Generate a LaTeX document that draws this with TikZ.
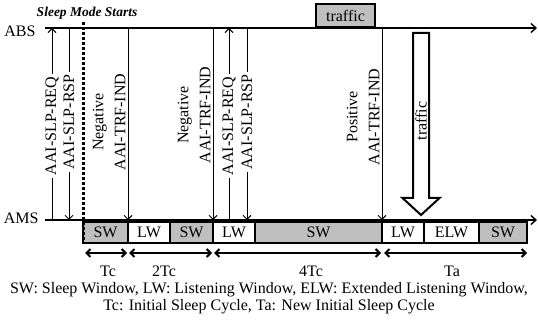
\documentclass[tikz,border=0pt]{standalone}
\usepackage{fontspec}
\setmainfont{Liberation Serif}
\usetikzlibrary{arrows.meta,positioning}

\begin{document}
\begin{tikzpicture}[x=1pt, y=-1pt, line width=1pt,
  every node/.style={font=\fontsize{16}{16}\selectfont, inner sep=2pt},
  msg/.style={-{Straight Barb[length=4pt,width=8pt]}, line width=0.9pt},
  axis/.style={-{Straight Barb[length=5pt,width=9pt]}, line width=1.4pt},
  span/.style={{Straight Barb[length=4pt,width=8pt]}-{Straight Barb[length=4pt,width=8pt]}, line width=2pt},
  win/.style={draw, line width=2pt, minimum height=21pt, outer sep=0pt, inner sep=0pt},
  sw/.style={win, fill=black!25},
  lw/.style={win, fill=white},
  ind/.style={rotate=90, anchor=south, align=center, inner sep=1pt,
    font=\fontsize{16}{22}\selectfont},
]
\useasboundingbox (0,0) rectangle (538,320);

% =========================
% time axes
% =========================
\coordinate (absStart) at (45,28);
\coordinate (absEnd) at (537,28);
\coordinate (amsStart) at (45,220);
\coordinate (amsEnd) at (537,220);
\node[anchor=east] (abs) at (38,31) {ABS};
\node[anchor=east] (ams) at (41,218) {AMS};
\draw[axis] (absStart) -- (absEnd);
\draw[axis] (amsStart) -- (amsEnd);

% =========================
% windows
% =========================
\node[sw, minimum width=45pt, anchor=west] (swA) at (83,232.5) {SW};
\node[lw, minimum width=42pt, right=0pt of swA] (lwA) {LW};
\node[sw, minimum width=43pt, right=0pt of lwA] (swB) {SW};
\node[lw, minimum width=42pt, right=0pt of swB] (lwB) {LW};
\node[sw, minimum width=127pt, right=0pt of lwB] (swC) {SW};
\node[lw, minimum width=42pt, right=0pt of swC] (lwC) {LW};
\node[lw, minimum width=55pt, right=0pt of lwC] (elw) {ELW};
\node[sw, minimum width=48pt, right=0pt of elw] (swD) {SW};

% sleep mode start
\node[font=\fontsize{13.5}{14}\selectfont\bfseries\itshape] (sleep) at (87,13) {Sleep Mode Starts};
\draw[line width=3pt, dash pattern=on 3pt off 2pt] (sleep.south -| swA.west) -- (swA.south west);

% =========================
% sleep request / response
% =========================
\node[rotate=90] (reqA) at (52,126) {AAI-SLP-REQ};
\draw[line width=0.9pt] (reqA |- amsStart) -- (reqA.west);
\draw[msg] (reqA.east) -- (reqA |- absStart);

\node[rotate=90] (rspA) at (69,122) {AAI-SLP-RSP};
\draw[line width=0.9pt] (rspA |- absStart) -- (rspA.east);
\draw[msg] (rspA.west) -- (rspA |- amsStart);

\node[rotate=90] (reqB) at (229,126) {AAI-SLP-REQ};
\draw[line width=0.9pt] (reqB |- amsStart) -- (reqB.west);
\draw[msg] (reqB.east) -- (reqB |- absStart);

\node[rotate=90] (rspB) at (247,122) {AAI-SLP-RSP};
\draw[line width=0.9pt] (rspB |- absStart) -- (rspB.east);
\draw[msg] (rspB.west) -- (rspB |- amsStart);

% =========================
% traffic indications
% =========================
\node[ind] (negA) at (127,122) {Negative\\AAI-TRF-IND};
\draw[msg] (lwA.west |- absStart) -- (lwA.west |- amsStart);

\node[ind] (negB) at (212,115) {Negative\\AAI-TRF-IND};
\draw[msg] (lwB.west |- absStart) -- (lwB.west |- amsStart);

\node[ind] (posA) at (381,117) {Positive\\AAI-TRF-IND};
\draw[msg] (lwC.west |- absStart) -- (lwC.west |- amsStart);

% traffic at ABS and its delivery
\node[sw, minimum width=59pt, minimum height=23pt] (traffic) at (345.5,15.5) {traffic};
\draw[line width=2pt, fill=white] (413,33) -- (429,33) -- (429,198) -- (439.5,198)
  -- (421,215) -- (402.5,198) -- (413,198) -- cycle;
\node[rotate=90] (delivery) at (421,121) {traffic};

% =========================
% cycles
% =========================
\coordinate (spanY) at (0,253);
\draw[span] ([xshift=2pt]swA.west |- spanY) -- ([xshift=-1pt]swA.east |- spanY);
\draw[span] ([xshift=1pt]lwA.west |- spanY) -- ([xshift=-1pt]swB.east |- spanY);
\draw[span] ([xshift=1pt]lwB.west |- spanY) -- ([xshift=-1pt]swC.east |- spanY);
\draw[span] ([xshift=2pt]lwC.west |- spanY) -- (swD.east |- spanY);
\node (tcA) at (108,271) {Tc};
\node (tcB) at (164,271) {2Tc};
\node (tcC) at (311,271) {4Tc};
\node (ta) at (452,271) {Ta};

% legend
\node[align=center, font=\fontsize{16}{17}\selectfont] (legend) at (269,298)
  {SW: Sleep Window, LW: Listening Window, ELW: Extended Listening Window,\\
   Tc: Initial Sleep Cycle, Ta: New Initial Sleep Cycle};

\end{tikzpicture}
\end{document}
